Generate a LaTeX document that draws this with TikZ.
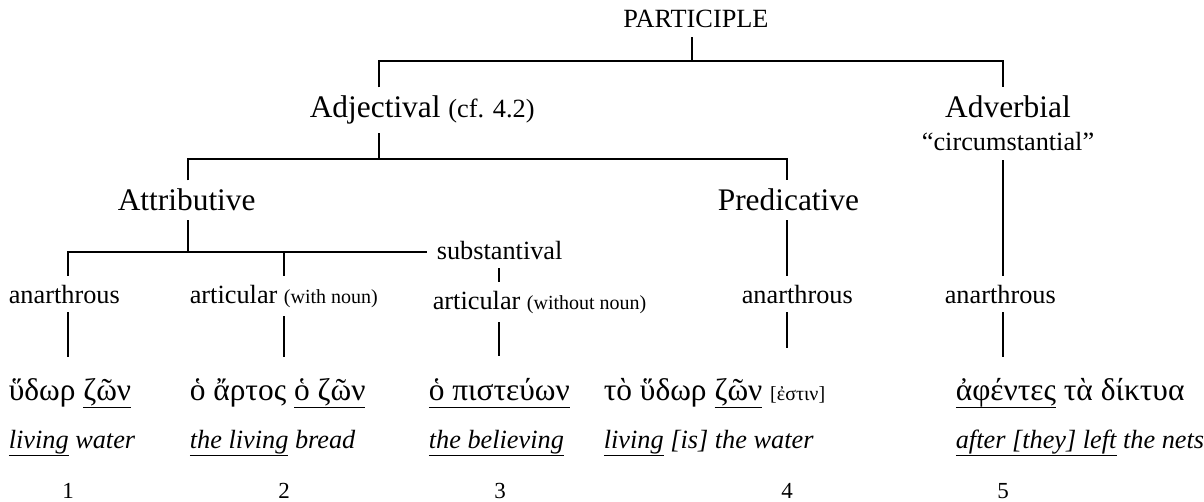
\documentclass[tikz,border=0pt]{standalone}
\usepackage{fontspec}
\setmainfont{Liberation Serif}
\usetikzlibrary{positioning}
\newcommand{\bigsz}{\fontsize{15.7pt}{18pt}\selectfont}
\newcommand{\smsz}{\fontsize{13.15pt}{15pt}\selectfont}
\newcommand{\tinysz}{\fontsize{10pt}{12pt}\selectfont}
\newcommand{\undl}[1]{\setbox0=\hbox{#1}\rlap{\rule[-4pt]{\wd0}{0.6pt}}\box0\relax}
\begin{document}
\begin{tikzpicture}[x=0.5pt, y=-0.5pt, line width=0.8pt,
    every node/.style={inner xsep=0pt, inner ysep=4pt},
    lbl/.style={font=\bigsz}, sublbl/.style={font=\smsz},
    greek/.style={font=\bigsz, anchor=base west},
    gloss/.style={font=\smsz\itshape, anchor=base west},
    num/.style={font=\fontsize{11.5pt}{14pt}\selectfont, anchor=base, inner ysep=0pt}]
    \useasboundingbox (0,0) rectangle (1204,502);

    \node[sublbl, anchor=base] (part) at (696,28) {PARTICIPLE};
    \node[lbl, anchor=base west] (adj) at (309,118) {Adjectival {\smsz(cf. 4.2)}};
    \node[lbl, anchor=base] (adv) at (1008,118) {Adverbial};
    \node[sublbl, anchor=base] (circ) at (1008,151) {“circumstantial”};
    \node[lbl, anchor=base west] (attr) at (117,211) {Attributive};
    \node[lbl, anchor=base west] (pred) at (717,211) {Predicative};
    \node[sublbl, anchor=base west] (subst) at (436,259) {substantival};

    \node[sublbl, anchor=base west] (anA) at (8,303) {anarthrous};
    \node[sublbl, anchor=base west] (artA) at (189,303) {articular {\tinysz(with noun)}};
    \node[sublbl, anchor=base west] (artB) at (432,309) {articular {\tinysz(without noun)}};
    \node[sublbl, anchor=base west] (anB) at (741,303) {anarthrous};
    \node[sublbl, anchor=base west] (anC) at (944,303) {anarthrous};

    % examples
    \node[greek] (g1) at (8,400) {ὕδωρ \undl{ζῶν}};
    \node[greek] (g2) at (189,400) {ὁ ἄρτος \undl{ὁ ζῶν}};
    \node[greek] (g3) at (428,400) {\undl{ὁ πιστεύων}};
    \node[greek] (g4) at (603,400) {τὸ ὕδωρ \undl{ζῶν} {\tinysz[ἐστιν]}};
    \node[greek] (g5) at (955,400) {\undl{ἀφέντες} τὰ δίκτυα};

    \node[gloss] (e1) at (8,448) {\undl{living} water};
    \node[gloss] (e2) at (189,448) {\undl{the living} bread};
    \node[gloss] (e3) at (428,448) {\undl{the believing}};
    \node[gloss] (e4) at (603,448) {\undl{living} [is] the water};
    \node[gloss] (e5) at (955,448) {\undl{after [they] left} the nets};

    \node[num] (n1) at (68,498) {1};
    \node[num] (n2) at (284,498) {2};
    \node[num] (n3) at (500,498) {3};
    \node[num] (n4) at (787,498) {4};
    \node[num] (n5) at (1003,498) {5};

    % branch points
    \coordinate (b0) at (692,61);
    \coordinate (b0l) at (379,61);
    \coordinate (b0r) at (1003,61);
    \coordinate (b1) at (379,159);
    \coordinate (b1l) at (188,159);
    \coordinate (b1r) at (787,159);
    \coordinate (b2) at (188,252);
    \coordinate (b2l) at (68,252);
    \coordinate (b2m) at (284,252);
    \coordinate (b2r) at (427,252);
    \coordinate (c1) at (68,357);
    \coordinate (c2) at (284,357);
    \coordinate (c3) at (499,356);
    \coordinate (c4) at (787,348);
    \coordinate (c5) at (1003,357);

    \draw (part.south -| b0) -- (b0);
    \draw (adj.north -| b0l) -- (b0l) -- (b0r) -- (adv.north -| b0r);
    \draw (adj.south -| b1) -- (b1);
    \draw (attr.north -| b1l) -- (b1l) -- (b1r) -- (pred.north -| b1r);
    \draw (attr.south -| b2) -- (b2);
    \draw (anA.north -| b2l) -- (b2l) -- (b2r);
    \draw (b2m) -- (artA.north -| b2m);
    \draw (subst.south -| c3) -- (artB.north -| c3);
    \draw (pred.south -| b1r) -- (anB.north -| b1r);
    \draw (circ.south -| b0r) -- (anC.north -| b0r);

    \draw (anA.south -| c1) -- (c1);
    \draw (artA.south -| c2) -- (c2);
    \draw (artB.south -| c3) -- (c3);
    \draw (anB.south -| c4) -- (c4);
    \draw (anC.south -| c5) -- (c5);
\end{tikzpicture}
\end{document}
